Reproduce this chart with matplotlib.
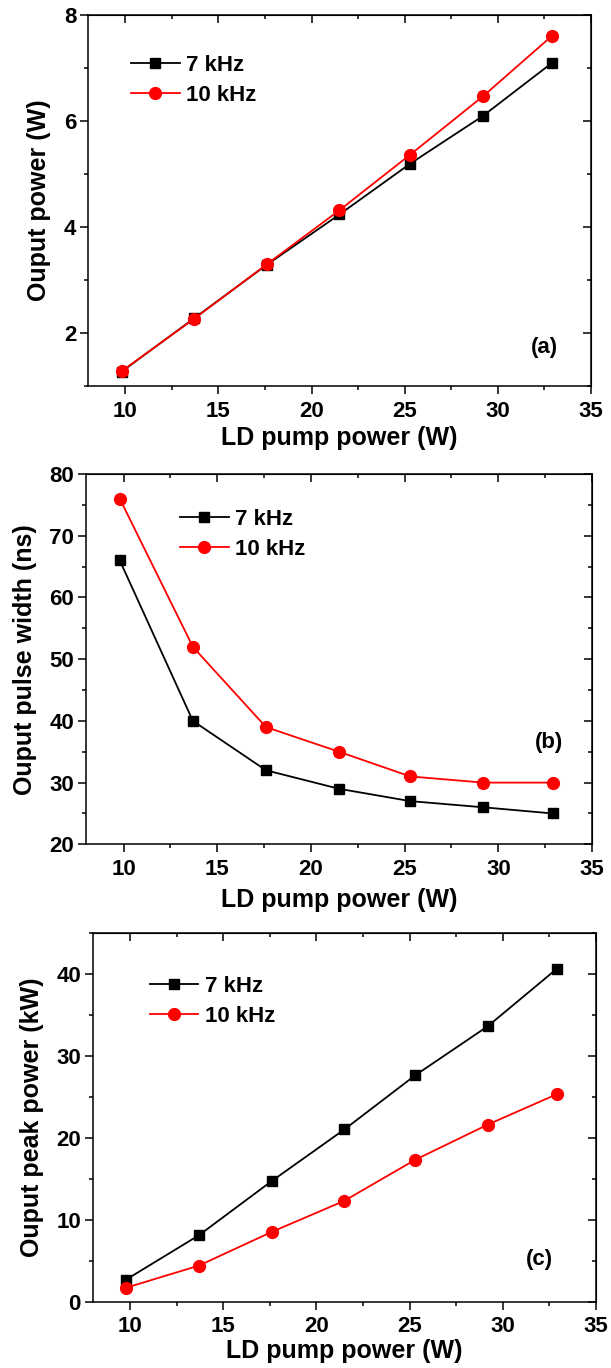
import matplotlib
matplotlib.use("Agg")
import matplotlib.pyplot as plt
from matplotlib.ticker import MultipleLocator

plt.rcParams['font.family'] = ['Liberation Sans Narrow', 'Liberation Sans', 'DejaVu Sans']
plt.rcParams['font.weight'] = 'bold'

# LD pump power (W)
pump = [9.8, 13.7, 17.6, 21.5, 25.3, 29.2, 32.9]

# (a) output power (W)
power_7k = [1.27, 2.28, 3.29, 4.24, 5.20, 6.10, 7.10]
power_10k = [1.28, 2.27, 3.30, 4.32, 5.37, 6.47, 7.61]

# (b) output pulse width (ns)
width_7k = [66, 40, 32, 29, 27, 26, 25]
width_10k = [76, 52, 39, 35, 31, 30, 30]

# (c) output peak power (kW)
peak_7k = [2.7, 8.1, 14.7, 21.0, 27.6, 33.6, 40.6]
peak_10k = [1.7, 4.4, 8.5, 12.3, 17.3, 21.6, 25.3]

fig = plt.figure(figsize=(6.11, 13.68), dpi=100)

panels = [
    # rect, y7, y10, ylim, ymajor, ylabel, tag, tag_pos, leg_pos, xlabelpad
    ([0.1440, 0.7178, 0.8232, 0.2710], power_7k, power_10k, (1, 8), 2,
     'Ouput power (W)', '(a)', (0.908, 0.105), (0.085, 0.893), 3),
    ([0.1408, 0.3828, 0.8282, 0.2707], width_7k, width_10k, (20, 80), 10,
     'Ouput pulse width (ns)', '(b)', (0.915, 0.274), (0.185, 0.906), 6),
    ([0.1517, 0.0485, 0.8237, 0.2697], peak_7k, peak_10k, (0, 45), 10,
     'Ouput peak power (kW)', '(c)', (0.887, 0.113), (0.113, 0.883), 1),
]

for rect, y7, y10, ylim, ymaj, ylab, tag, tag_pos, leg_pos, xlp in panels:
    ax = fig.add_axes(rect)
    ax.plot(pump, y7, color='black', lw=1.3, marker='s', ms=7.5, label='7 kHz')
    ax.plot(pump, y10, color='red', lw=1.3, marker='o', ms=8.5, label='10 kHz')
    ax.set_xlim(8, 35)
    ax.set_ylim(*ylim)
    ax.xaxis.set_major_locator(MultipleLocator(5))
    ax.xaxis.set_minor_locator(MultipleLocator(2.5))
    ax.yaxis.set_major_locator(MultipleLocator(ymaj))
    ax.yaxis.set_minor_locator(MultipleLocator(ymaj / 2))
    for s in ax.spines.values():
        s.set_linewidth(1.1)
    ax.tick_params(which='both', direction='out', top=False, right=False, width=1.1)
    ax.tick_params(which='major', length=5.5, labelsize=16, pad=3)
    ax.tick_params(axis='x', which='major', pad=5)
    ax.tick_params(which='minor', length=3)

    # inward ticks on top and right, as in the original
    sx = ax.secondary_xaxis('top')
    sx.xaxis.set_major_locator(MultipleLocator(5))
    sx.xaxis.set_minor_locator(MultipleLocator(2.5))
    sx.tick_params(which='both', direction='in', labeltop=False, width=1.1)
    sx.tick_params(which='major', length=5.5)
    sx.tick_params(which='minor', length=3)
    sy = ax.secondary_yaxis('right')
    sy.yaxis.set_major_locator(MultipleLocator(ymaj))
    sy.yaxis.set_minor_locator(MultipleLocator(ymaj / 2))
    sy.tick_params(which='both', direction='in', labelright=False, width=1.1)
    sy.tick_params(which='major', length=5.5)
    sy.tick_params(which='minor', length=3)

    for lbl in ax.get_xticklabels() + ax.get_yticklabels():
        lbl.set_fontweight('bold')
    ax.set_xlabel('LD pump power (W)', fontsize=18, fontweight='bold', labelpad=xlp)
    ax.set_ylabel(ylab, fontsize=18, fontweight='bold', labelpad=9)
    ax.text(tag_pos[0], tag_pos[1], tag, transform=ax.transAxes,
            fontsize=16, fontweight='bold', ha='center', va='center')
    ax.legend(loc='upper left', bbox_to_anchor=leg_pos, frameon=False,
              handlelength=2.2, handletextpad=0.3,
              labelspacing=0.4, borderpad=0, borderaxespad=0,
              prop={'weight': 'bold', 'size': 16})

fig.savefig('out.png', dpi=100)
